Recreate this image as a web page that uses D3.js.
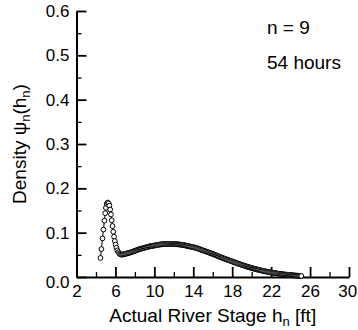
<!DOCTYPE html>
<html>
<head>
<meta charset="utf-8">
<script src="https://cdn.jsdelivr.net/npm/d3@7"></script>
<style>
  html, body { margin: 0; padding: 0; background: #fff; }
  svg { display: block; }
  text { font-family: Arial, "Liberation Sans", Helvetica, sans-serif; fill: #000; }
</style>
</head>
<body>
<svg id="chart" width="358" height="330"></svg>
<script>
// ---- data ----
const stage = [
  4.46, 4.56, 4.67, 4.77, 4.87, 4.95, 5.02, 5.1, 5.2, 5.3, 5.38, 5.46, 5.54, 5.62, 5.7, 5.78,
  5.86, 5.94, 6.02, 6.1, 6.2, 6.3, 6.4, 6.5, 6.6, 6.7, 6.8, 6.9,
  7.0, 7.1, 7.2, 7.3, 7.4, 7.5, 7.6, 7.7, 7.8, 7.9,
  8.0, 8.1, 8.2, 8.3, 8.4, 8.5, 8.6, 8.7, 8.8, 8.9,
  9.0, 9.1, 9.2, 9.3, 9.4, 9.5, 9.6, 9.7, 9.8, 9.9,
  10.0, 10.1, 10.2, 10.3, 10.4, 10.5, 10.6, 10.7, 10.8, 10.9,
  11.0, 11.1, 11.2, 11.3, 11.4, 11.5, 11.6, 11.7, 11.8, 11.9,
  12.0, 12.1, 12.2, 12.3, 12.4, 12.5, 12.6, 12.7, 12.8, 12.9,
  13.0, 13.1, 13.2, 13.3, 13.4, 13.5, 13.6, 13.7, 13.8, 13.9,
  14.0, 14.1, 14.2, 14.3, 14.4, 14.5, 14.6, 14.7, 14.8, 14.9,
  15.0, 15.1, 15.2, 15.3, 15.4, 15.5, 15.6, 15.7, 15.8, 15.9,
  16.0, 16.1, 16.2, 16.3, 16.4, 16.5, 16.6, 16.7, 16.8, 16.9,
  17.0, 17.1, 17.2, 17.3, 17.4, 17.5, 17.6, 17.7, 17.8, 17.9,
  18.0, 18.1, 18.2, 18.3, 18.4, 18.5, 18.6, 18.7, 18.8, 18.9,
  19.0, 19.1, 19.2, 19.3, 19.4, 19.5, 19.6, 19.7, 19.8, 19.9,
  20.0, 20.1, 20.2, 20.3, 20.4, 20.5, 20.6, 20.7, 20.8, 20.9,
  21.0, 21.1, 21.2, 21.3, 21.4, 21.5, 21.6, 21.7, 21.8, 21.9,
  22.0, 22.1, 22.2, 22.3, 22.4, 22.5, 22.6, 22.7, 22.8, 22.9,
  23.0, 23.1, 23.2, 23.3, 23.4, 23.5, 23.6, 23.7, 23.8, 23.9,
  24.0, 24.1, 24.2, 24.3, 24.4, 24.5, 24.6, 24.7, 24.8, 24.9,
  25.0, 25.1
];
const density = [
  0.043, 0.063, 0.087, 0.107, 0.127, 0.144, 0.156, 0.165, 0.168, 0.166, 0.161, 0.152, 0.141, 0.128, 0.115, 0.102,
  0.091, 0.081, 0.073, 0.066, 0.060, 0.056, 0.053, 0.051, 0.0505, 0.0505, 0.051, 0.0515,
  0.0520, 0.0526, 0.0532, 0.0538, 0.0544, 0.0550, 0.0558, 0.0566, 0.0574, 0.0582,
  0.0590, 0.0598, 0.0606, 0.0614, 0.0622, 0.0630, 0.0636, 0.0642, 0.0648, 0.0654,
  0.0660, 0.0666, 0.0672, 0.0678, 0.0684, 0.0690, 0.0694, 0.0698, 0.0702, 0.0706,
  0.0710, 0.0714, 0.0718, 0.0722, 0.0726, 0.0730, 0.0733, 0.0736, 0.0738, 0.0740,
  0.0741, 0.0742, 0.0743, 0.0744, 0.0745, 0.0745, 0.0745, 0.0745, 0.0745, 0.0744,
  0.0743, 0.0742, 0.0741, 0.0739, 0.0737, 0.0735, 0.0732, 0.0729, 0.0726, 0.0723,
  0.0720, 0.0716, 0.0711, 0.0706, 0.0700, 0.0695, 0.0691, 0.0686, 0.0682, 0.0677,
  0.0672, 0.0666, 0.0660, 0.0653, 0.0647, 0.0640, 0.0632, 0.0624, 0.0616, 0.0608,
  0.0600, 0.0592, 0.0584, 0.0576, 0.0568, 0.0560, 0.0552, 0.0544, 0.0536, 0.0528,
  0.0520, 0.0511, 0.0502, 0.0493, 0.0484, 0.0475, 0.0466, 0.0457, 0.0448, 0.0439,
  0.0430, 0.0422, 0.0414, 0.0406, 0.0398, 0.0390, 0.0382, 0.0374, 0.0366, 0.0358,
  0.0350, 0.0342, 0.0334, 0.0326, 0.0318, 0.0310, 0.0302, 0.0295, 0.0287, 0.0280,
  0.0272, 0.0265, 0.0258, 0.0250, 0.0243, 0.0236, 0.0229, 0.0223, 0.0216, 0.0210,
  0.0203, 0.0197, 0.0191, 0.0185, 0.0179, 0.0173, 0.0168, 0.0162, 0.0157, 0.0151,
  0.0146, 0.0141, 0.0136, 0.0132, 0.0127, 0.0122, 0.0118, 0.0114, 0.0109, 0.0105,
  0.0101, 0.0097, 0.0094, 0.0090, 0.0087, 0.0083, 0.0080, 0.0077, 0.0073, 0.0070,
  0.0067, 0.0064, 0.0062, 0.0059, 0.0057, 0.0054, 0.0052, 0.0050, 0.0047, 0.0045,
  0.0043, 0.0041, 0.0039, 0.0037, 0.0035, 0.0033, 0.0031, 0.0029, 0.0027, 0.0026,
  0.0024, 0.0022
];
const xMajorTicks = [2, 6, 10, 14, 18, 22, 26, 30];
const xMinorTicks = [4, 8, 12, 16, 20, 24, 28];
const yMajorTicks = [0.0, 0.1, 0.2, 0.3, 0.4, 0.5, 0.6];
const yMinorTicks = [0.05, 0.15, 0.25, 0.35, 0.45, 0.55];
const annotations = ["n = 9", "54 hours"];
const xTitle = "Actual River Stage h";
const yTitle = "Density ψ";

// ---- drawing ----
const svg = d3.select("#chart");
const x = d3.scaleLinear().domain([2, 30]).range([76.5, 349]);
const y = d3.scaleLinear().domain([0, 0.6]).range([277, 11]);

// minor ticks
svg.append("g")
  .attr("transform", `translate(${x(2)},0)`)
  .call(d3.axisLeft(y).tickValues(yMinorTicks).tickSize(-5).tickFormat(""))
  .call(g => g.select(".domain").remove())
  .call(g => g.selectAll("line").attr("stroke-width", 1.3));
svg.append("g")
  .attr("transform", `translate(0,${y(0)})`)
  .call(d3.axisBottom(x).tickValues(xMinorTicks).tickSize(-5).tickFormat(""))
  .call(g => g.select(".domain").remove())
  .call(g => g.selectAll("line").attr("stroke-width", 1.3));

// major y axis
const gy = svg.append("g")
  .attr("transform", `translate(${x(2)},0)`)
  .call(d3.axisLeft(y).tickValues(yMajorTicks).tickSize(-10).tickSizeOuter(0).tickPadding(7)
    .tickFormat(d3.format(".1f")));
gy.select(".domain").attr("stroke-width", 2);
gy.selectAll(".tick line").attr("stroke-width", 1.8);
gy.selectAll(".tick text").attr("font-size", 17).attr("font-family", "Arial, 'Liberation Sans', sans-serif");
gy.selectAll(".tick text").filter(d => d === 0).attr("dy", "0.6em");

// major x axis
const gx = svg.append("g")
  .attr("transform", `translate(0,${y(0)})`)
  .call(d3.axisBottom(x).tickValues(xMajorTicks).tickSize(-10).tickSizeOuter(0).tickPadding(8)
    .tickFormat(d3.format("d")));
gx.select(".domain").attr("stroke-width", 2);
gx.selectAll(".tick line").attr("stroke-width", 1.8);
gx.selectAll(".tick text").attr("font-size", 17).attr("font-family", "Arial, 'Liberation Sans', sans-serif");
gx.selectAll(".tick text").filter(d => d === 30).attr("dx", "-0.1em");

// data line + markers
const pts = stage.map((s, i) => [s, density[i]]);
svg.append("path")
  .datum(pts)
  .attr("fill", "none")
  .attr("stroke", "#000")
  .attr("stroke-width", 1)
  .attr("d", d3.line().x(d => x(d[0])).y(d => y(d[1])));
svg.append("g")
  .selectAll("circle")
  .data(pts)
  .join("circle")
  .attr("cx", d => x(d[0]))
  .attr("cy", d => y(d[1]))
  .attr("r", 2.4)
  .attr("fill", "#fff")
  .attr("stroke", "#000")
  .attr("stroke-width", 1);

// annotations
svg.append("text").attr("x", 267).attr("y", 34).attr("font-size", 19).text(annotations[0]);
svg.append("text").attr("x", 267).attr("y", 69).attr("font-size", 19).text(annotations[1]);

// x title
const xt = svg.append("text")
  .attr("x", (x(2) + x(30)) / 2)
  .attr("y", 322)
  .attr("text-anchor", "middle")
  .attr("font-size", 19);
xt.append("tspan").text(xTitle);
xt.append("tspan").attr("font-size", 13).attr("dy", 4).text("n");
xt.append("tspan").attr("dy", -4).text(" [ft]");

// y title
const yt = svg.append("text")
  .attr("transform", `translate(26,${(y(0) + y(0.6)) / 2}) rotate(-90)`)
  .attr("text-anchor", "middle")
  .attr("font-size", 19);
yt.append("tspan").text(yTitle);
yt.append("tspan").attr("font-size", 13).attr("dy", 4).text("n");
yt.append("tspan").attr("dy", -4).text("(h");
yt.append("tspan").attr("font-size", 13).attr("dy", 4).text("n");
yt.append("tspan").attr("dy", -4).text(")");
</script>
</body>
</html>
